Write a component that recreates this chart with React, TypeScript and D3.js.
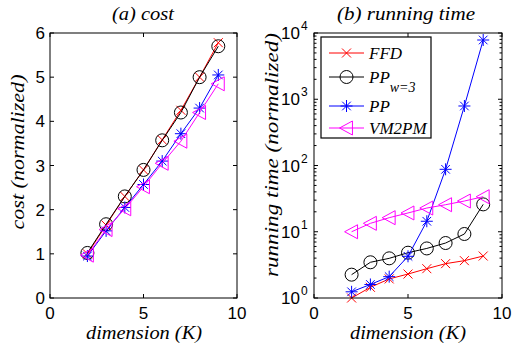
import React from 'react';
import * as d3 from 'd3';

const dims = [2, 3, 4, 5, 6, 7, 8, 9];

// (a) cost, normalized
const costFFD = [1.0, 1.65, 2.3, 2.9, 3.58, 4.25, 5.0, 5.78];
const costPPw3 = [1.02, 1.67, 2.3, 2.9, 3.57, 4.2, 5.0, 5.7];
const costPP = [0.95, 1.52, 2.05, 2.57, 3.1, 3.72, 4.3, 5.05];
const costVM2PM = [0.97, 1.55, 2.02, 2.52, 3.05, 3.55, 4.2, 4.85];

// (b) running time, normalized
const timeFFD = [1.0, 1.45, 1.94, 2.3, 2.77, 3.3, 3.66, 4.3];
const timePPw3 = [2.25, 3.46, 3.97, 4.83, 5.6, 6.76, 9.25, 25.9];
const timePP = [1.24, 1.6, 2.1, 4.26, 14.4, 87.6, 791, 7840];
const timeVM2PM = [10, 13.4, 16.3, 19.2, 22.8, 25.6, 29.1, 33.8];

const xTicks = [0, 5, 10];
const costTicks = [0, 1, 2, 3, 4, 5, 6];
const timeExps = [0, 1, 2, 3, 4];

const series = [
  { key: 'FFD', color: '#ff0000', marker: 'x' },
  { key: 'PPw3', color: '#000000', marker: 'o' },
  { key: 'PP', color: '#0000ff', marker: '*' },
  { key: 'VM2PM', color: '#ff00ff', marker: '<' },
];

const serif = '"Liberation Serif", serif';
const sans = '"Liberation Sans", Arial, sans-serif';

function Marker({ type, x, y, color }) {
  if (type === 'x') {
    const s = 4.5;
    return (
      <g stroke={color} strokeWidth={1}>
        <line x1={x - s} y1={y - s} x2={x + s} y2={y + s} />
        <line x1={x - s} y1={y + s} x2={x + s} y2={y - s} />
      </g>
    );
  }
  if (type === 'o') {
    return <circle cx={x} cy={y} r={6.5} fill="none" stroke={color} strokeWidth={1} />;
  }
  if (type === '*') {
    const s = 6, d = 4.3;
    return (
      <g stroke={color} strokeWidth={1}>
        <line x1={x - s} y1={y} x2={x + s} y2={y} />
        <line x1={x} y1={y - s} x2={x} y2={y + s} />
        <line x1={x - d} y1={y - d} x2={x + d} y2={y + d} />
        <line x1={x - d} y1={y + d} x2={x + d} y2={y - d} />
      </g>
    );
  }
  const s = 7;
  return (
    <polygon
      points={`${x - s},${y} ${x + s * 0.85},${y - s} ${x + s * 0.85},${y + s}`}
      fill="none"
      stroke={color}
      strokeWidth={1}
    />
  );
}

function Lines({ data, x, y }) {
  const line = d3.line<number>().x((d, i) => x(dims[i])).y(d => y(d));
  return (
    <g>
      {data.map((vals, si) => (
        <g key={series[si].key}>
          <path d={line(vals) || ''} fill="none" stroke={series[si].color} strokeWidth={1} />
          {vals.map((v, i) => (
            <Marker key={i} type={series[si].marker} x={x(dims[i])} y={y(v)} color={series[si].color} />
          ))}
        </g>
      ))}
    </g>
  );
}

function XAxis({ x, top, bottom }) {
  return (
    <g>
      {xTicks.map(t => (
        <g key={t}>
          <line x1={x(t)} x2={x(t)} y1={bottom} y2={bottom - 4} stroke="#000" />
          <line x1={x(t)} x2={x(t)} y1={top} y2={top + 4} stroke="#000" />
          <text x={x(t)} y={bottom + 21} textAnchor="middle" fontFamily={sans} fontSize={17}>{t}</text>
        </g>
      ))}
    </g>
  );
}

function Label({ x, y, len, rotate = false, children }) {
  return (
    <text
      transform={`translate(${x},${y})${rotate ? ' rotate(-90)' : ''}`}
      textAnchor="middle"
      fontFamily={serif}
      fontStyle="italic"
      fontSize={19.5}
      textLength={len}
      lengthAdjust="spacingAndGlyphs"
    >
      {children}
    </text>
  );
}

export default function App() {
  const top = 33, bottom = 298;

  const xa = d3.scaleLinear().domain([0, 10]).range([50, 237]);
  const ya = d3.scaleLinear().domain([0, 6]).range([bottom, top]);

  const xb = d3.scaleLinear().domain([0, 10]).range([314, 502]);
  const yb = d3.scaleLog().domain([1, 10000]).range([bottom, top]);

  const minor: number[] = [];
  timeExps.slice(0, -1).forEach(e => {
    for (let m = 2; m <= 9; m++) minor.push(m * Math.pow(10, e));
  });

  const legendRows = [
    { y: 53, label: <tspan>FFD</tspan> },
    { y: 77, label: <><tspan>PP</tspan><tspan dy={9} fontSize={14}>w=3</tspan></> },
    { y: 106, label: <tspan>PP</tspan> },
    { y: 128, label: <tspan>VM2PM</tspan> },
  ];

  return (
    <svg width={521} height={348} style={{ position: 'absolute', left: 0, top: 0, background: '#fff' }}>
      <rect width={521} height={348} fill="#fff" />

      {/* (a) cost */}
      <Label x={143} y={20} len={62}>(a) cost</Label>
      <Lines data={[costFFD, costPPw3, costPP, costVM2PM]} x={xa} y={ya} />
      <rect x={50} y={top} width={187} height={bottom - top} fill="none" stroke="#000" />
      <XAxis x={xa} top={top} bottom={bottom} />
      {costTicks.map(t => (
        <g key={t}>
          <line x1={50} x2={54} y1={ya(t)} y2={ya(t)} stroke="#000" />
          <line x1={237} x2={233} y1={ya(t)} y2={ya(t)} stroke="#000" />
          <text x={45} y={ya(t) + 6} textAnchor="end" fontFamily={sans} fontSize={17}>{t}</text>
        </g>
      ))}
      <Label x={144} y={339} len={116}>dimension (K)</Label>
      <Label x={24} y={152} len={155} rotate>cost (normalized)</Label>

      {/* (b) running time */}
      <Label x={406} y={20} len={138}>(b) running time</Label>
      <Lines data={[timeFFD, timePPw3, timePP, timeVM2PM]} x={xb} y={yb} />
      <rect x={314} y={top} width={188} height={bottom - top} fill="none" stroke="#000" />
      <XAxis x={xb} top={top} bottom={bottom} />
      {timeExps.map(e => {
        const v = Math.pow(10, e);
        return (
          <g key={e}>
            <line x1={314} x2={318} y1={yb(v)} y2={yb(v)} stroke="#000" />
            <line x1={502} x2={498} y1={yb(v)} y2={yb(v)} stroke="#000" />
            <text x={300} y={yb(v) + 6} textAnchor="end" fontFamily={sans} fontSize={17}>10</text>
            <text x={301} y={yb(v) - 3} textAnchor="start" fontFamily={sans} fontSize={12}>{e}</text>
          </g>
        );
      })}
      {minor.map(v => (
        <g key={v}>
          <line x1={314} x2={316.5} y1={yb(v)} y2={yb(v)} stroke="#000" />
          <line x1={502} x2={499.5} y1={yb(v)} y2={yb(v)} stroke="#000" />
        </g>
      ))}
      <Label x={408} y={339} len={116}>dimension (K)</Label>
      <Label x={278} y={155} len={244} rotate>running time (normalized)</Label>

      {/* legend */}
      <rect x={321} y={37} width={110} height={101} fill="#fff" stroke="#000" strokeWidth={1.2} />
      {legendRows.map((r, i) => (
        <g key={series[i].key}>
          <line x1={329} x2={364} y1={r.y} y2={r.y} stroke={series[i].color} />
          <Marker type={series[i].marker} x={346.5} y={r.y} color={series[i].color} />
          <text x={369} y={r.y + 6} fontFamily={serif} fontStyle="italic" fontSize={17}>{r.label}</text>
        </g>
      ))}
    </svg>
  );
}
